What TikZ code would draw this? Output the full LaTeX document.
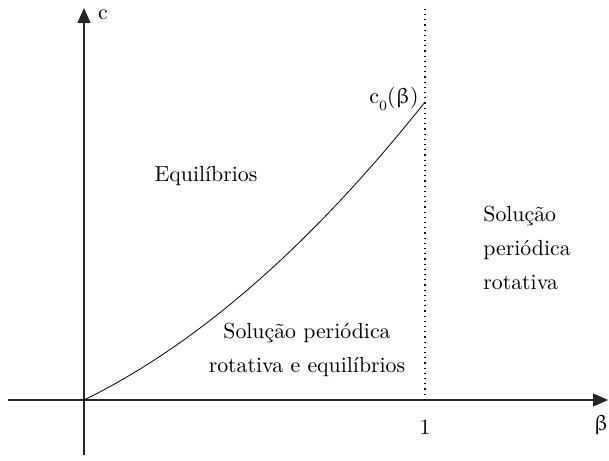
\documentclass[tikz,border=0pt]{standalone}
\usepackage{amsmath}
\usepackage{upgreek}
\usepackage{tikz}
\usetikzlibrary{arrows.meta, positioning}

\begin{document}
\begin{tikzpicture}[x=0.5pt, y=0.5pt, font=\fontsize{10.9}{16.8}\selectfont,
    axis line/.style={black!85, line width=0.6pt, -{Triangle[length=7.5pt, width=6.5pt]}},
    region/.style={inner sep=1pt}]
    \useasboundingbox (-84,-60) rectangle (525,400);

    % axes
    \coordinate (O) at (0,0);
    \coordinate (xmin) at (-76,0);
    \coordinate (xmax) at (524,0);
    \coordinate (ymin) at (0,-55);
    \coordinate (ymax) at (0,392);
    \draw[axis line] (xmin) -- (xmax);
    \draw[axis line] (ymin) -- (ymax);
    \node (xlabel) at (517,-25) {$\upbeta$};
    \node (ylabel) at (19,385) {c};

    % beta = 1 (dotted)
    \coordinate (one) at (341,0);
    \coordinate (onetop) at (341,392);
    \draw[dotted, line width=0.6pt] (one) -- (onetop);
    \node (onelabel) at (341,-27) {1};

    % curve c_0(beta)
    \draw[line width=0.4pt] plot[domain=0:1, samples=60]
      ({341*\x}, {298*(0.56*\x+0.44*\x*\x)}) coordinate (cend);
    \node (clabel) at (310,301) {c\raisebox{-3.5pt}{\scriptsize 0}($\upbeta$)};

    % regions
    \node[region] (equil) at (122,224) {Equilíbrios};
    \node[region, align=center] (both) at (223,50)
      {Solução periódica\\rotativa e equilíbrios};
    \node[region, align=left, anchor=west] (rot) at (397,152)
      {Solução\\periódica\\rotativa};
\end{tikzpicture}
\end{document}
